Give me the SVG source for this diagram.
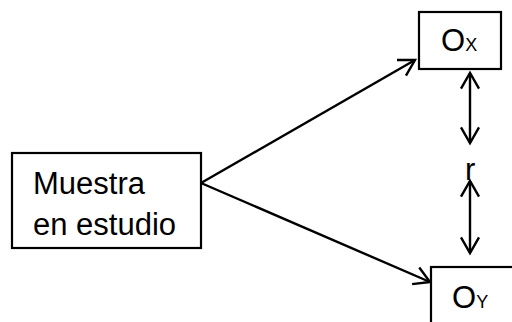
<svg xmlns="http://www.w3.org/2000/svg" width="512" height="322" viewBox="0 0 512 322">
<style>
.box{fill:#fff;stroke:#000;stroke-width:2.2}
.t{font-family:"Liberation Sans",Arial,sans-serif;font-size:31px;fill:#000}
.s{font-size:18px}
.c{fill:none;stroke:#000;stroke-width:2.4}
</style>
<defs>
<marker id="ah" markerUnits="userSpaceOnUse" markerWidth="40" markerHeight="40" refX="0" refY="0" viewBox="-20 -20 40 40" orient="auto-start-reverse" overflow="visible">
<path d="M-15.6,-9 L0,0 L-15.6,9" fill="none" stroke="#000" stroke-width="2.4"/>
</marker>
</defs>
<rect width="512" height="322" fill="#fff"/>
<g id="connectors">
<line class="c" x1="201" y1="183" x2="415" y2="60" marker-end="url(#ah)"/>
<line class="c" x1="201" y1="183" x2="430" y2="282" marker-end="url(#ah)"/>
<line class="c" x1="470" y1="73" x2="470" y2="143" marker-start="url(#ah)" marker-end="url(#ah)"/>
<line class="c" x1="470" y1="181" x2="470" y2="253" marker-start="url(#ah)" marker-end="url(#ah)"/>
</g>
<g id="muestra">
<rect class="box" x="12" y="153" width="189" height="95"/>
<text class="t" x="33" y="194">Muestra</text>
<text class="t" x="33" y="235">en estudio</text>
</g>
<g id="ox">
<rect class="box" x="419" y="12" width="82" height="57"/>
<text class="t" x="441" y="51">O<tspan class="s">X</tspan></text>
</g>
<g id="oy">
<rect class="box" x="431" y="267" width="90" height="70"/>
<text class="t" x="452" y="308">O<tspan class="s">Y</tspan></text>
</g>
<g id="r">
<text class="t" x="465" y="180">r</text>
</g>
</svg>
